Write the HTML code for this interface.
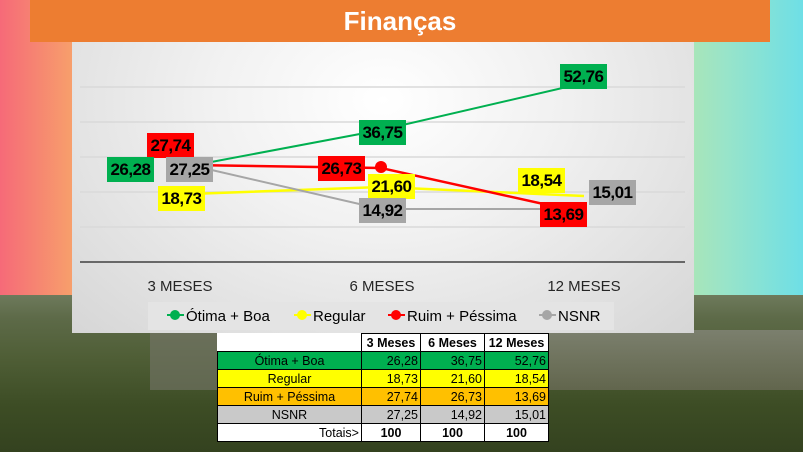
<!DOCTYPE html>
<html><head><meta charset="utf-8"><style>
*{margin:0;padding:0;box-sizing:border-box}
body{width:803px;height:452px;overflow:hidden;position:relative;font-family:"Liberation Sans",sans-serif;
background:linear-gradient(90deg,#f66a78 0%,#f7a56a 10%,#f3c07a 25%,#e8e0c0 50%,#c0e8a0 80%,#9ae4c8 90%,#6edfe6 100%);}
.land{position:absolute;left:0;top:295px;width:803px;height:157px;
background:linear-gradient(180deg,#6e7a5c 0%,#5d6a48 15%,#4f5e36 40%,#3d4d25 70%,#34421f 100%)}
.town{position:absolute;left:540px;top:330px;width:263px;height:60px;background:linear-gradient(180deg,#8a8a80,#6f6e5c);opacity:.7}
.town2{position:absolute;left:150px;top:330px;width:70px;height:60px;background:#77776a;opacity:.6}
.hdr{position:absolute;left:30px;top:0;width:740px;height:42px;background:#ed7d31;color:#fff;font-weight:bold;font-size:26px;text-align:center;line-height:42px}
.panel{position:absolute;left:72px;top:42px;width:622px;height:291px;background:radial-gradient(ellipse at 50% 20%,#ffffff 0%,#f1f1f1 40%,#d6d6d6 100%)}
.lb{position:absolute;font-weight:bold;font-size:17px;text-align:center;line-height:25px;color:#000;width:47px;height:25px;letter-spacing:-0.5px}
.g{background:#00b050}.y{background:#ffff00}.r{background:#ff0000}.s{background:#a6a6a6}
table{position:absolute;left:217px;top:333px;width:331px;border-collapse:collapse;font-size:12.5px;background:#fff;table-layout:fixed}
td{border:1px solid #000;height:18px;padding:0 2px;text-align:right;overflow:hidden;white-space:nowrap}
td:first-child{text-align:center}
</style></head><body>
<div class="land"></div><div class="town"></div><div class="town2"></div>
<div class="hdr">Finanças</div>
<div class="panel"></div>
<svg style="position:absolute;left:0;top:0" width="803" height="452">
<g stroke="#d9d9d9" stroke-width="1.5">
<line x1="80" y1="87" x2="685" y2="87"/><line x1="80" y1="122" x2="685" y2="122"/>
<line x1="80" y1="157" x2="685" y2="157"/><line x1="80" y1="192" x2="685" y2="192"/>
<line x1="80" y1="227" x2="685" y2="227"/></g>
<line x1="80" y1="262" x2="685" y2="262" stroke="#404040" stroke-width="1.5"/>
<polyline points="190,194 381,187 584,196" fill="none" stroke="#ffff00" stroke-width="2.5"/>
<polyline points="190,165 381,209 584,209" fill="none" stroke="#a6a6a6" stroke-width="2"/>
<polyline points="190,165 381,168 584,213" fill="none" stroke="#ff0000" stroke-width="2.5"/>
<polyline points="190,166 381,130 584,83" fill="none" stroke="#00b050" stroke-width="2"/>
<circle cx="381" cy="167" r="6" fill="#ff0000"/>
<g font-size="15" fill="#262626" text-anchor="middle">
<text x="180" y="291">3 MESES</text><text x="382" y="291">6 MESES</text><text x="584" y="291">12 MESES</text></g>
<rect x="148" y="302" width="466" height="28" fill="#e4e4e4"/>
<g font-size="15" fill="#000">
<line x1="167" y1="315" x2="184" y2="315" stroke="#00b050" stroke-width="2"/><circle cx="175" cy="315" r="5" fill="#00b050"/><text x="186" y="321">Ótima + Boa</text>
<line x1="294" y1="315" x2="311" y2="315" stroke="#ffff00" stroke-width="2"/><circle cx="302" cy="315" r="5" fill="#ffff00"/><text x="313" y="321">Regular</text>
<line x1="388" y1="315" x2="405" y2="315" stroke="#ff0000" stroke-width="2"/><circle cx="396" cy="315" r="5" fill="#ff0000"/><text x="407" y="321">Ruim + Péssima</text>
<line x1="539" y1="315" x2="556" y2="315" stroke="#a6a6a6" stroke-width="2"/><circle cx="547" cy="315" r="5" fill="#a6a6a6"/><text x="558" y="321">NSNR</text>
</g></svg>
<div class="lb r" style="left:147px;top:133px">27,74</div>
<div class="lb g" style="left:107px;top:157px">26,28</div>
<div class="lb s" style="left:166px;top:157px">27,25</div>
<div class="lb y" style="left:158px;top:186px">18,73</div>
<div class="lb g" style="left:359px;top:120px">36,75</div>
<div class="lb r" style="left:318px;top:156px">26,73</div>
<div class="lb y" style="left:368px;top:174px">21,60</div>
<div class="lb s" style="left:359px;top:198px">14,92</div>
<div class="lb g" style="left:560px;top:64px">52,76</div>
<div class="lb y" style="left:518px;top:168px">18,54</div>
<div class="lb s" style="left:589px;top:180px">15,01</div>
<div class="lb r" style="left:540px;top:202px">13,69</div>
<table>
<colgroup><col style="width:144px"><col style="width:59px"><col style="width:64px"><col style="width:64px"></colgroup>
<tr style="font-weight:bold"><td style="border-top-color:#fff;border-left-color:#fff"></td><td style="text-align:center">3 Meses</td><td style="text-align:center">6 Meses</td><td style="text-align:center">12 Meses</td></tr>
<tr style="background:#00b050"><td>Ótima + Boa</td><td>26,28</td><td>36,75</td><td>52,76</td></tr>
<tr style="background:#ffff00"><td>Regular</td><td>18,73</td><td>21,60</td><td>18,54</td></tr>
<tr style="background:#ffc000"><td>Ruim + Péssima</td><td>27,74</td><td>26,73</td><td>13,69</td></tr>
<tr style="background:#c9c9c9"><td>NSNR</td><td>27,25</td><td>14,92</td><td>15,01</td></tr>
<tr style="font-weight:bold"><td style="text-align:right;font-weight:normal">Totais&gt;</td><td style="text-align:center">100</td><td style="text-align:center">100</td><td style="text-align:center">100</td></tr>
</table>
</body></html>
